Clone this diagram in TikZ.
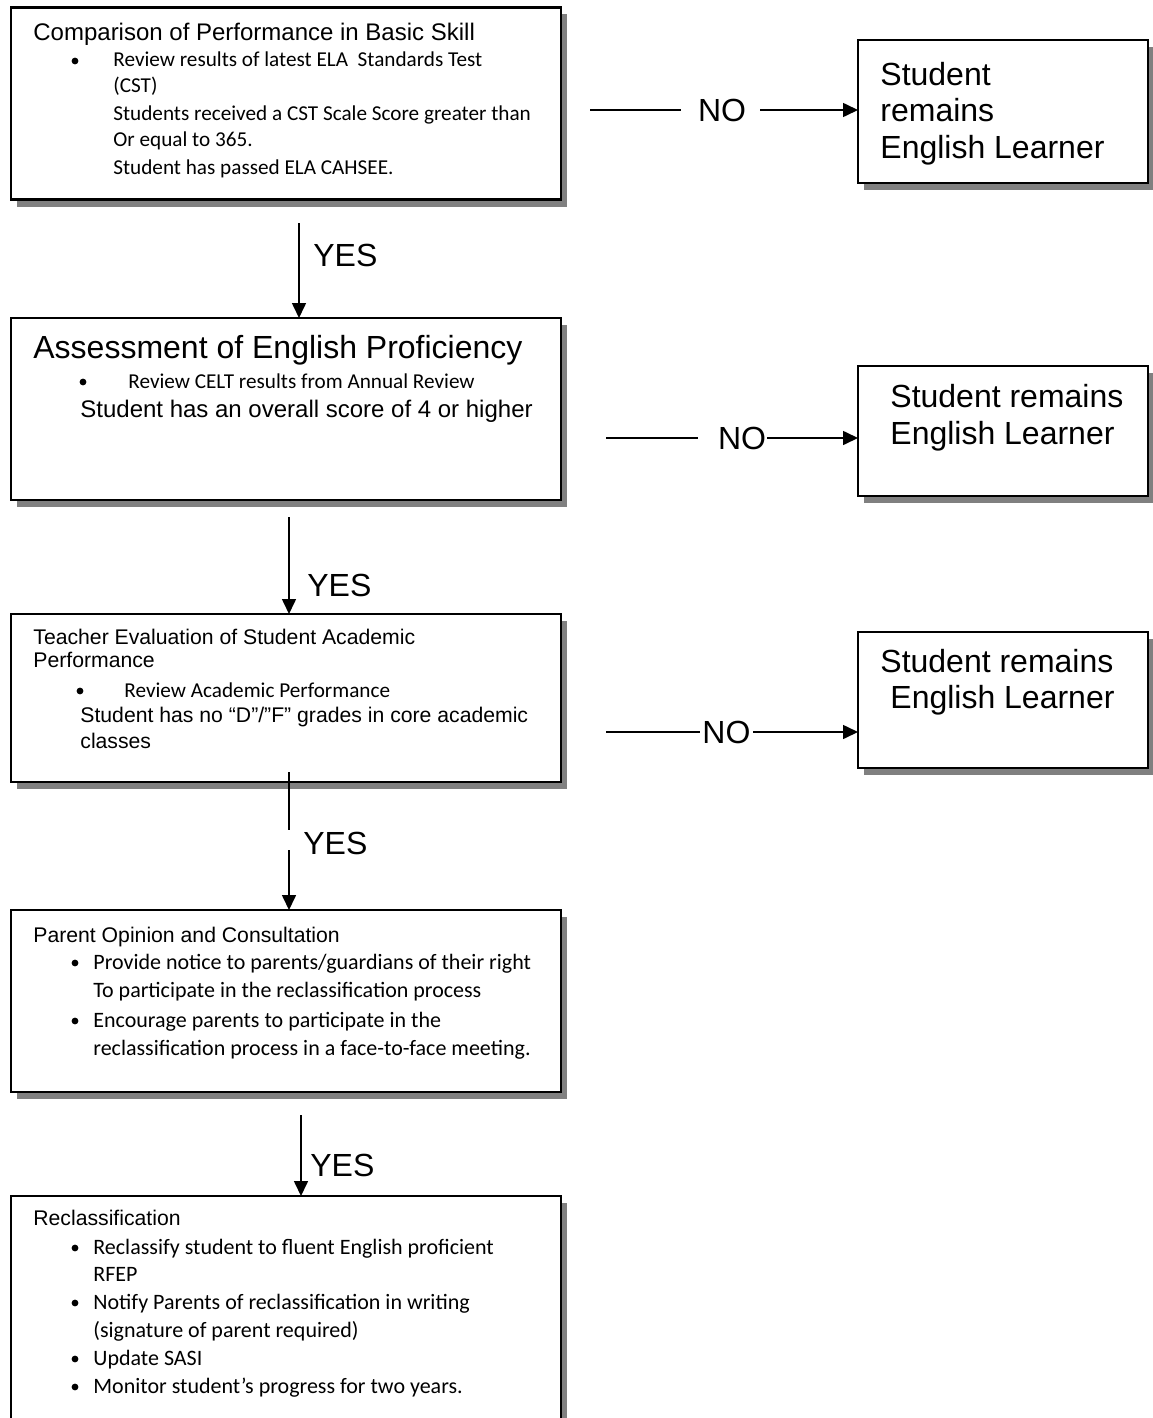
\documentclass[tikz,border=0pt]{standalone}
\usepackage{fontspec}
\setmainfont{Liberation Sans}
\newfontfamily\calfont{Carlito}
\usetikzlibrary{arrows.meta,shadows}
\definecolor{shadowgray}{HTML}{808080}
\begin{document}
\begin{tikzpicture}[x=0.5pt,y=-0.5pt,
  box/.style={draw, line width=1.2pt, fill=white, inner sep=0pt, outer sep=0pt,
    minimum width=275pt,
    drop shadow={shadow xshift=3pt, shadow yshift=-3.5pt, fill=shadowgray, opacity=1}},
  rbox/.style={box, minimum width=145pt},
  conn/.style={line width=0.8pt},
  arr/.style={conn, -{Triangle[length=7.5pt,width=7pt]}},
  hd/.style={anchor=base west, inner sep=0pt, font=\fontsize{12}{14}\selectfont},
  hds/.style={anchor=base west, inner sep=0pt, font=\fontsize{10.6}{12}\selectfont},
  big/.style={anchor=base west, inner sep=0pt, font=\fontsize{16}{18}\selectfont},
  cal/.style={anchor=base west, inner sep=0pt, font=\calfont\fontsize{10.6}{12}\selectfont},
  calb/.style={anchor=base west, inner sep=0pt, font=\calfont\fontsize{11}{13}\selectfont},
  bul/.style={circle, fill=black, inner sep=0pt, minimum size=3.4pt},
  lab/.style={inner sep=0pt, font=\fontsize{16}{18}\selectfont}]
\useasboundingbox (0,0) rectangle (1152,1418);

% main boxes
\node[box, minimum height=96pt] (b1) at (286,103.5) {};
\node[box, minimum height=91pt] (b2) at (286,409) {};
\node[box, minimum height=84pt] (b3) at (286,698) {};
\node[box, minimum height=91pt] (b4) at (286,1001) {};
\node[box, minimum height=122pt] (b5) at (286,1318) {};
% right boxes
\node[rbox, minimum height=71.5pt] (r1) at (1003,111.5) {};
\node[rbox, minimum height=65pt] (r2) at (1003,431) {};
\node[rbox, minimum height=68pt] (r3) at (1003,700) {};

% box 1 text
\node[hd] (t1h) at (33,41) {Comparison of Performance in Basic Skill};
\node[bul] (t1d) at (75,61) {};
\node[cal] (t1a) at (113,67) {Review results of latest ELA\ \ Standards Test};
\node[cal] (t1b) at (113,93) {(CST)};
\node[cal] (t1c) at (113,120) {Students received a CST Scale Score greater than};
\node[cal] (t1e) at (113,147) {Or equal to 365.};
\node[cal] (t1f) at (113,174) {Student has passed ELA CAHSEE.};

% box 2 text
\node[big] (t2h) at (33,358) {Assessment of English Proficiency};
\node[bul] (t2d) at (83,382) {};
\node[cal] (t2a) at (128,388) {Review CELT results from Annual Review};
\node[hd] (t2b) at (80,417) {Student has an overall score of 4 or higher};

% box 3 text
\node[hds] (t3h) at (33,644) {Teacher Evaluation of Student Academic};
\node[hds] (t3i) at (33,667) {Performance};
\node[bul] (t3d) at (80,691) {};
\node[cal] (t3a) at (124,697) {Review Academic Performance};
\node[hds] (t3b) at (80,722) {Student has no “D”/”F” grades in core academic};
\node[hds] (t3c) at (80,748) {classes};

% box 4 text
\node[hds] (t4h) at (33,942) {Parent Opinion and Consultation};
\node[bul] (t4d) at (75,963) {};
\node[calb] (t4a) at (93,969) {Provide notice to parents/guardians of their right};
\node[calb] (t4b) at (93,997) {To participate in the reclassification process};
\node[bul] (t4e) at (75,1021) {};
\node[calb] (t4c) at (93,1027) {Encourage parents to participate in the};
\node[calb] (t4f) at (93,1055) {reclassification process in a face-to-face meeting.};

% box 5 text
\node[hds] (t5h) at (33,1225) {Reclassification};
\node[bul] (t5d) at (75,1248) {};
\node[calb] (t5a) at (93,1254) {Reclassify student to fluent English proficient};
\node[calb] (t5b) at (93,1281) {RFEP};
\node[bul] (t5e) at (75,1303) {};
\node[calb] (t5c) at (93,1309) {Notify Parents of reclassification in writing};
\node[calb] (t5f) at (93,1337) {(signature of parent required)};
\node[bul] (t5g) at (75,1359) {};
\node[calb] (t5i) at (93,1365) {Update SASI};
\node[bul] (t5j) at (75,1387) {};
\node[calb] (t5k) at (93,1393) {Monitor student’s progress for two years.};

% right box texts
\node[big] (r1a) at (880,86) {Student};
\node[big] (r1b) at (880,122) {remains};
\node[big] (r1c) at (880,158) {English Learner};
\node[big] (r2a) at (890,407) {Student remains};
\node[big] (r2b) at (890,444) {English Learner};
\node[big] (r3a) at (880,672) {Student remains};
\node[big] (r3b) at (890,708) {English Learner};

% NO connectors
\coordinate (n1a) at (590,110);
\coordinate (n1b) at (681,110);
\node[lab] (no1) at (722,110) {NO};
\coordinate (n1c) at (760,110);
\draw[conn] (n1a) -- (n1b);
\draw[arr] (n1c) -- (n1c -| r1.west);

\coordinate (n2a) at (606,438);
\coordinate (n2b) at (698,438);
\node[lab] (no2) at (742,438) {NO};
\coordinate (n2c) at (767,438);
\draw[conn] (n2a) -- (n2b);
\draw[arr] (n2c) -- (n2c -| r2.west);

\coordinate (n3a) at (606,732);
\coordinate (n3b) at (700,732);
\node[lab, anchor=west] (no3) at (702,732) {NO};
\coordinate (n3c) at (753,732);
\draw[conn] (n3a) -- (n3b);
\draw[arr] (n3c) -- (n3c -| r3.west);

% YES connectors
\coordinate (y1) at (299,223);
\draw[arr] (y1) -- (y1 |- b2.north);
\node[lab, anchor=west] (yes1) at (313,255) {YES};

\coordinate (y2) at (289,517);
\draw[arr] (y2) -- (y2 |- b3.north);
\node[lab, anchor=west] (yes2) at (307,585) {YES};

\coordinate (y3a) at (289,772);
\coordinate (y3b) at (289,830);
\coordinate (y3c) at (289,850);
\draw[conn] (y3a) -- (y3b);
\draw[arr] (y3c) -- (y3c |- b4.north);
\node[lab, anchor=west] (yes3) at (303,843) {YES};

\coordinate (y4) at (301,1115);
\draw[arr] (y4) -- (y4 |- b5.north);
\node[lab, anchor=west] (yes4) at (310,1165) {YES};
\end{tikzpicture}
\end{document}
